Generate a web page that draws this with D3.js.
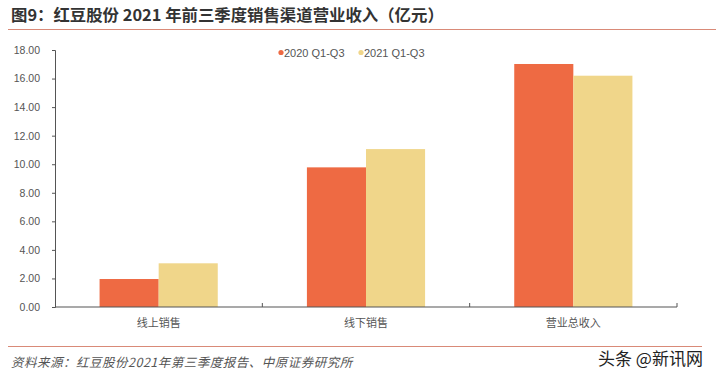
<!DOCTYPE html>
<html><head><meta charset="utf-8">
<script src="https://cdn.jsdelivr.net/npm/d3@7"></script>
<style>body{margin:0;background:#fff}svg{display:block}</style>
</head><body>
<script>
const categories = ["线上销售", "线下销售", "营业总收入"];
const seriesNames = ["2020 Q1-Q3", "2021 Q1-Q3"];
const values2020 = [1.96, 9.78, 17.02];
const values2021 = [3.06, 11.06, 16.20];
const yTicks = [0, 2, 4, 6, 8, 10, 12, 14, 16, 18];
const titleText = "图9：红豆股份 2021 年前三季度销售渠道营业收入（亿元）";
const sourceText = "资料来源：红豆股份2021年第三季度报告、中原证券研究所";
const watermark = "头条 @新讯网";

const W = 724, H = 378;
const colors = ["#EE6A43", "#F0D68A"];
const svg = d3.select("body").append("svg").attr("width", W).attr("height", H);
svg.append("rect").attr("width", W).attr("height", H).attr("fill", "#fff");

// title
svg.append("text").attr("x", 11).attr("y", 21).attr("font-family", "Noto Sans CJK SC")
  .attr("font-size", 16.4).attr("font-weight", "bold").attr("fill", "#333").text(titleText);
svg.append("line").attr("x1", 8).attr("x2", 716).attr("y1", 29.5).attr("y2", 29.5)
  .attr("stroke", "#D98A78").attr("stroke-width", 1.2);

const x0 = d3.scaleBand().domain(categories).range([55, 677]).paddingInner(0.43).paddingOuter(0.215);
const x1 = d3.scaleBand().domain(seriesNames).range([0, x0.bandwidth()]);
const y = d3.scaleLinear().domain([0, 18]).range([307, 50]);

// bars
const data = categories.map((c, i) => ({c, v: [values2020[i], values2021[i]]}));
const g = svg.append("g");
data.forEach(d => {
  d.v.forEach((v, j) => {
    g.append("rect").attr("x", x0(d.c) + x1(seriesNames[j])).attr("width", x1.bandwidth())
      .attr("y", y(v)).attr("height", y(0) - y(v)).attr("fill", colors[j]);
  });
});

// y axis
const yAxis = svg.append("g").attr("transform", "translate(55,0)")
  .call(d3.axisLeft(y).tickValues(yTicks).tickSize(3).tickPadding(12).tickFormat(d3.format(".2f")));
yAxis.select(".domain").attr("stroke", "#555");
yAxis.selectAll(".tick line").attr("stroke", "#555");
yAxis.selectAll("text").attr("font-family", "Liberation Sans").attr("font-size", 10.5).attr("fill", "#555");

// x axis
const xAxisG = svg.append("g").attr("transform", "translate(0,307)");
xAxisG.append("line").attr("x1", 55).attr("x2", 677).attr("stroke", "#555").attr("stroke-width", 1.2);
categories.forEach(c => {
  const bx = x0(c) - x0.step() * x0.paddingOuter() + x0.step();
  xAxisG.append("line").attr("x1", bx).attr("x2", bx).attr("y1", 0).attr("y2", -4).attr("stroke", "#555");
});
xAxisG.selectAll("text.cat").data(categories).join("text").attr("class", "cat")
  .attr("x", d => x0(d) + x0.bandwidth() / 2).attr("y", 20).attr("text-anchor", "middle")
  .attr("font-family", "Noto Sans CJK SC").attr("font-size", 11).attr("fill", "#555").text(d => d);

// legend
const leg = svg.append("g");
const legX = [281, 361];
seriesNames.forEach((s, i) => {
  leg.append("circle").attr("cx", legX[i]).attr("cy", 52.5).attr("r", 2.6).attr("fill", colors[i]);
  leg.append("text").attr("x", legX[i] + 3).attr("y", 56.5).attr("font-family", "Liberation Sans")
    .attr("font-size", 11).attr("fill", "#555").text(s);
});

// footer
svg.append("line").attr("x1", 8).attr("x2", 702).attr("y1", 346.5).attr("y2", 346.5)
  .attr("stroke", "#D98A78").attr("stroke-width", 1);
svg.append("text").attr("x", 11).attr("y", 366.5).attr("font-family", "Noto Sans CJK SC")
  .attr("font-size", 12.5).attr("letter-spacing", 0.5).attr("font-style", "italic").attr("fill", "#555").text(sourceText);
svg.append("text").attr("x", 598).attr("y", 364.5).attr("font-family", "Noto Sans CJK SC")
  .attr("font-size", 17).attr("fill", "#222").attr("stroke", "#fff").attr("stroke-width", 2.5)
  .attr("paint-order", "stroke").text(watermark);
</script>
</body></html>
